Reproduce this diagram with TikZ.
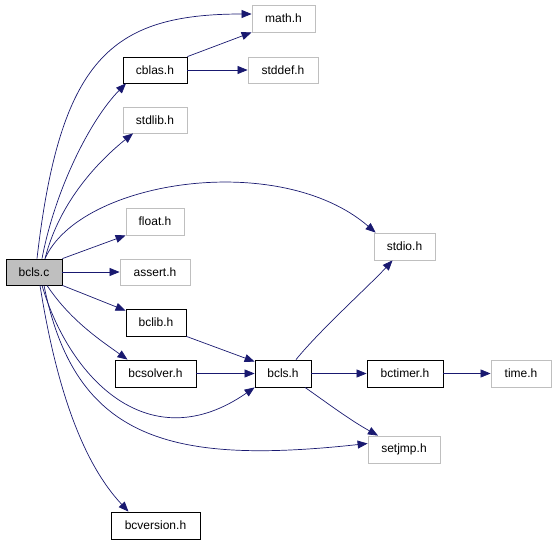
\documentclass[tikz,border=0pt]{standalone}
\usepackage{fontspec}
\setmainfont{Liberation Sans}
\usetikzlibrary{arrows.meta}
\definecolor{edgeblue}{HTML}{191970}
\definecolor{graybox}{HTML}{BFBFBF}
\begin{document}
\begin{tikzpicture}[x=1pt,y=-1pt,
  box/.style={draw=black,line width=0.8pt,inner sep=0pt,font=\fontsize{12}{14}\selectfont,fill=white},
  extbox/.style={box,draw=graybox},
  mainbox/.style={box,fill=graybox},
  edge/.style={draw=edgeblue,line width=0.7pt,-{Triangle[length=10pt,width=8pt]}}]
\useasboundingbox (0,0) rectangle (555,544);
\node[mainbox,minimum width=56pt,minimum height=26pt] (bclsc) at (34,272) {bcls.c};
\node[extbox,minimum width=63pt,minimum height=27pt] (mathh) at (283.5,18.5) {math.h};
\node[box,minimum width=64pt,minimum height=26pt] (cblash) at (155,70) {cblas.h};
\node[extbox,minimum width=70pt,minimum height=26pt] (stddefh) at (283,70) {stddef.h};
\node[extbox,minimum width=64pt,minimum height=26pt] (stdlibh) at (155,120) {stdlib.h};
\node[extbox,minimum width=58pt,minimum height=27pt] (floath) at (155,221.5) {float.h};
\node[extbox,minimum width=70pt,minimum height=26pt] (asserth) at (155,272) {assert.h};
\node[box,minimum width=60pt,minimum height=27pt] (bclibh) at (156,322.5) {bclib.h};
\node[extbox,minimum width=61pt,minimum height=27pt] (stdioh) at (404.5,246.5) {stdio.h};
\node[box,minimum width=56pt,minimum height=27pt] (bclsh) at (283,373.5) {bcls.h};
\node[box,minimum width=76pt,minimum height=27pt] (bctimerh) at (405,373.5) {bctimer.h};
\node[extbox,minimum width=60pt,minimum height=27pt] (timeh) at (521,373.5) {time.h};
\node[extbox,minimum width=72pt,minimum height=27pt] (setjmph) at (404,449.5) {setjmp.h};
\node[box,minimum width=81pt,minimum height=27pt] (bcsolverh) at (155.5,373.5) {bcsolver.h};
\node[box,minimum width=89pt,minimum height=27pt] (bcversionh) at (155.5,525.5) {bcversion.h};

% from bcls.c
\draw[edge] ([xshift=3pt]bclsc.north) .. controls (60,60) and (110,14) .. ([yshift=4.5pt]mathh.west);
\draw[edge] ([xshift=8pt]bclsc.north) .. controls (55,190) and (90,120) .. ([xshift=-29pt]cblash.south);
\draw[edge] ([xshift=11pt]bclsc.north) .. controls (60,200) and (100,160) .. ([xshift=-22pt]stdlibh.south);
\draw[edge] ([xshift=11pt]bclsc.north) .. controls (80,180) and (280,150) .. ([xshift=2pt]stdioh.north west);
\draw[edge] (bclsc.north east) -- (floath.south west);
\draw[edge] (bclsc.east) -- (asserth.west);
\draw[edge] (bclsc.south east) -- ([yshift=-2pt]bclibh.north west);
\draw[edge] ([xshift=13pt]bclsc.south) .. controls (70,320) and (100,340) .. ([xshift=-28pt]bcsolverh.north);
\draw[edge] ([xshift=8pt]bclsc.south) .. controls (70,380) and (150,460) .. (bclsh.south west);
\draw[edge] ([xshift=10pt]bclsc.south) .. controls (75,440) and (170,465) .. ([yshift=6pt]setjmph.west);
\draw[edge] ([xshift=6pt]bclsc.south) .. controls (55,380) and (80,460) .. ([xshift=-27pt]bcversionh.north);
% others
\draw[edge] (cblash.north east) -- (mathh.south west);
\draw[edge] (cblash.east) -- (stddefh.west);
\draw[edge] (bclibh.south east) -- ([yshift=-2pt]bclsh.north west);
\draw[edge] (bcsolverh.east) -- (bclsh.west);
\draw[edge] ([xshift=13pt]bclsh.north) .. controls (320,330) and (370,285) .. ([xshift=-12pt]stdioh.south);
\draw[edge] (bclsh.east) -- (bctimerh.west);
\draw[edge] ([xshift=22pt]bclsh.south) .. controls (330,405) and (350,420) .. ([xshift=-26pt]setjmph.north);
\draw[edge] (bctimerh.east) -- (timeh.west);
\end{tikzpicture}
\end{document}
